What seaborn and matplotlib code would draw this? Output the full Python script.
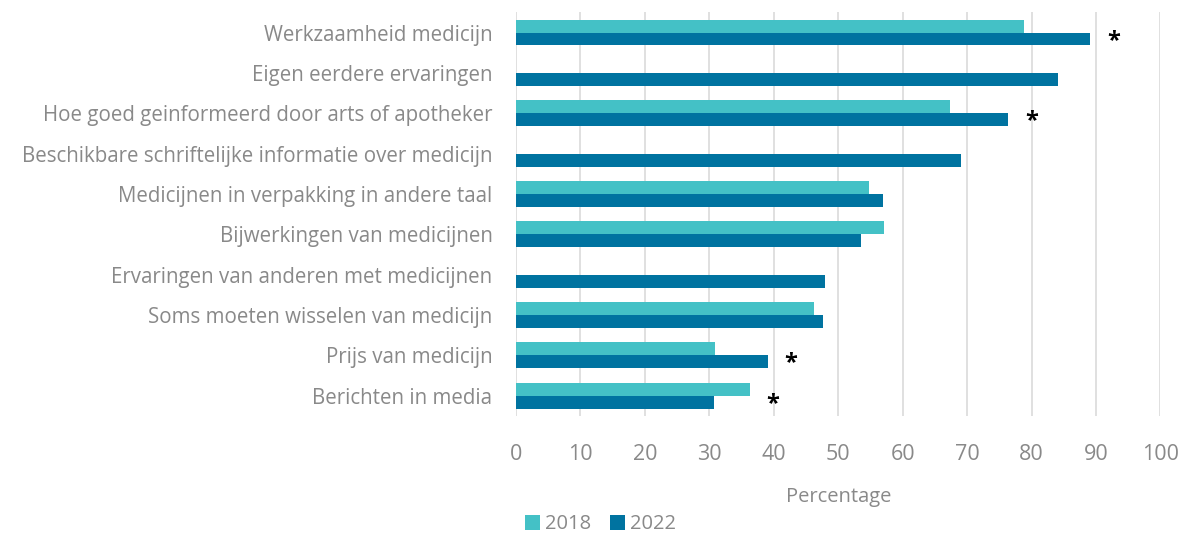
import numpy as np
import pandas as pd
import matplotlib
matplotlib.use("Agg")
import matplotlib.pyplot as plt
import seaborn as sns

categories = [
    "Werkzaamheid medicijn",
    "Eigen eerdere ervaringen",
    "Hoe goed geinformeerd door arts of apotheker",
    "Beschikbare schriftelijke informatie over medicijn",
    "Medicijnen in verpakking in andere taal",
    "Bijwerkingen van medicijnen",
    "Ervaringen van anderen met medicijnen",
    "Soms moeten wisselen van medicijn",
    "Prijs van medicijn",
    "Berichten in media",
]
values_2018 = [78.9, np.nan, 67.4, np.nan, 54.8, 57.1, np.nan, 46.3, 30.9, 36.3]
values_2022 = [89.1, 84.1, 76.4, 69.0, 56.9, 53.6, 47.9, 47.7, 39.1, 30.7]
significant = [True, False, True, False, False, False, False, False, True, True]
years = ["2018", "2022"]
xticks = list(range(0, 101, 10))

colors = {"2018": "#44C1C6", "2022": "#0073A0"}
grey = "#898989"

df = pd.DataFrame({
    "Categorie": categories * 2,
    "Jaar": ["2018"] * len(categories) + ["2022"] * len(categories),
    "Percentage": values_2018 + values_2022,
})

sns.set_style("white")
plt.rcParams["font.family"] = ["Open Sans", "DejaVu Sans"]

fig = plt.figure(figsize=(11.89, 5.40), dpi=100)
ax = fig.add_axes([0.434, 0.23, 0.542, 0.747])

# vertical gridlines behind bars
ax.set_axisbelow(True)
ax.xaxis.grid(True, color="#DDDDDD", linewidth=1.3)

sns.barplot(data=df, y="Categorie", x="Percentage", hue="Jaar",
            order=categories, hue_order=years, palette=colors,
            saturation=1, linewidth=0, width=0.64, orient="h", ax=ax,
            legend=True)

# asterisks for significant differences
for i, (a, b, s) in enumerate(zip(values_2018, values_2022, significant)):
    if s:
        ax.text(np.nanmax([a, b]) + 3.6, i + 0.2, "*", ha="center", va="center",
                fontsize=17, fontweight="bold", color="black")

ax.set_xlim(0, 100)
ax.set_xticks(xticks)
ax.set_ylim(len(categories) - 0.5, -0.5)
ax.tick_params(axis="x", length=0, pad=20, labelsize=15.5, labelcolor=grey)
ax.tick_params(axis="y", length=0, pad=17, labelsize=14.8, labelcolor=grey)
ax.set_ylabel("")
ax.set_xlabel("Percentage", fontsize=14.5, color=grey, labelpad=16)
sns.despine(ax=ax, left=True, bottom=True)

handles, labels = ax.get_legend_handles_labels()
ax.legend_.remove()
fig.legend(handles, labels, loc="lower center", bbox_to_anchor=(0.505, -0.012),
           ncol=2, frameon=False, fontsize=14.5, labelcolor=grey,
           handlelength=0.75, handleheight=0.75, handletextpad=0.25,
           columnspacing=0.9, borderaxespad=0.2)

fig.savefig("out.png", dpi=100)
